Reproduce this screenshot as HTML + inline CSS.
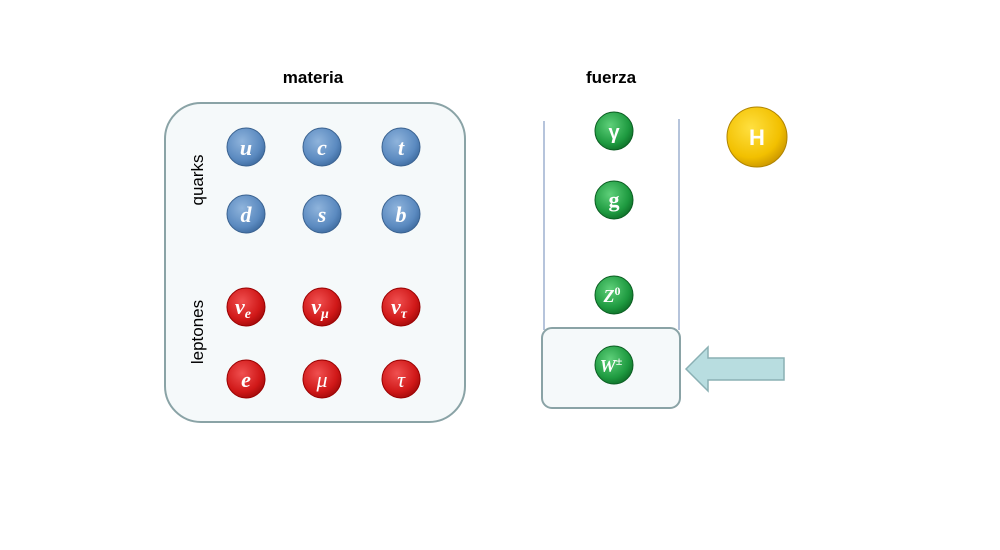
<!DOCTYPE html>
<html><head><meta charset="utf-8"><style>
body{margin:0;background:#fff;}
svg{display:block;}
text{font-family:"Liberation Sans",sans-serif;}
.m, .m text{font-family:"Liberation Serif",serif;font-style:italic;font-weight:bold;fill:#fff;text-anchor:middle;}
</style></head><body>
<svg width="1000" height="550" viewBox="0 0 1000 550">
<defs>
<radialGradient id="bl" cx="0.4" cy="0.35" r="0.7"><stop offset="0" stop-color="#8fb4dc"/><stop offset="0.7" stop-color="#5b8ac0"/><stop offset="1" stop-color="#3d6a9e"/></radialGradient>
<radialGradient id="rd" cx="0.4" cy="0.35" r="0.7"><stop offset="0" stop-color="#f05050"/><stop offset="0.7" stop-color="#d01818"/><stop offset="1" stop-color="#a00a0a"/></radialGradient>
<radialGradient id="gr" cx="0.4" cy="0.35" r="0.7"><stop offset="0" stop-color="#5fd07a"/><stop offset="0.7" stop-color="#1e9a40"/><stop offset="1" stop-color="#0e6e28"/></radialGradient>
<radialGradient id="yl" cx="0.4" cy="0.35" r="0.7"><stop offset="0" stop-color="#ffe040"/><stop offset="0.7" stop-color="#f2c000"/><stop offset="1" stop-color="#c89400"/></radialGradient>
</defs>
<text x="313" y="83" font-size="17" font-weight="bold" text-anchor="middle">materia</text>
<text x="611" y="83" font-size="17" font-weight="bold" text-anchor="middle">fuerza</text>
<rect x="165" y="103" width="300" height="319" rx="36" fill="#f5f9fa" stroke="#8aa3a6" stroke-width="2"/>
<text transform="translate(203,180) rotate(-90)" font-size="17" text-anchor="middle">quarks</text>
<text transform="translate(203,332) rotate(-90)" font-size="17" text-anchor="middle">leptones</text>
<g stroke="#3a6290" stroke-width="1">
<circle cx="246" cy="147" r="19" fill="url(#bl)"/><circle cx="322" cy="147" r="19" fill="url(#bl)"/><circle cx="401" cy="147" r="19" fill="url(#bl)"/>
<circle cx="246" cy="214" r="19" fill="url(#bl)"/><circle cx="322" cy="214" r="19" fill="url(#bl)"/><circle cx="401" cy="214" r="19" fill="url(#bl)"/>
</g>
<g stroke="#900" stroke-width="1">
<circle cx="246" cy="307" r="19" fill="url(#rd)"/><circle cx="322" cy="307" r="19" fill="url(#rd)"/><circle cx="401" cy="307" r="19" fill="url(#rd)"/>
<circle cx="246" cy="379" r="19" fill="url(#rd)"/><circle cx="322" cy="379" r="19" fill="url(#rd)"/><circle cx="401" cy="379" r="19" fill="url(#rd)"/>
</g>
<g class="m" font-size="22">
<text x="246" y="155">u</text><text x="322" y="155">c</text><text x="401" y="155">t</text>
<text x="246" y="222">d</text><text x="322" y="222">s</text><text x="401" y="222">b</text>
<text x="243" y="314">ν<tspan font-size="14" dy="4">e</tspan></text>
<text x="320" y="314">ν<tspan font-size="14" dy="4">μ</tspan></text>
<text x="399" y="314">ν<tspan font-size="14" dy="4">τ</tspan></text>
<text x="246" y="387">e</text><text x="322" y="387" style="font-weight:normal">μ</text><text x="401" y="387" style="font-weight:normal">τ</text>
</g>
<line x1="544" y1="121" x2="544" y2="330" stroke="#8fa4c8" stroke-width="1.3"/>
<line x1="679" y1="119" x2="679" y2="330" stroke="#8fa4c8" stroke-width="1.3"/>
<rect x="542" y="328" width="138" height="80" rx="10" fill="#f5f9fa" stroke="#8aa3a6" stroke-width="2"/>
<g stroke="#0b5e22" stroke-width="1">
<circle cx="614" cy="131" r="19" fill="url(#gr)"/><circle cx="614" cy="200" r="19" fill="url(#gr)"/>
<circle cx="614" cy="295" r="19" fill="url(#gr)"/><circle cx="614" cy="365" r="19" fill="url(#gr)"/>
</g>
<g fill="#fff" text-anchor="middle" font-weight="bold">
<text x="614" y="139" font-size="20">γ</text>
<text x="614" y="207" font-size="22" style="font-family:'Liberation Serif',serif">g</text>
</g>
<g class="m">
<text x="612" y="302" font-size="18">Z<tspan font-size="12" dy="-7" style="font-style:normal">0</tspan></text>
<text x="611" y="372" font-size="18">W<tspan font-size="12" dy="-7" style="font-style:normal">±</tspan></text>
</g>
<circle cx="757" cy="137" r="30" fill="url(#yl)" stroke="#b08400" stroke-width="1"/>
<text x="757" y="145" font-size="22" font-weight="bold" fill="#fff" text-anchor="middle">H</text>
<polygon points="686,369 708,347 708,358 784,358 784,380 708,380 708,391" fill="#b8dde0" stroke="#8ab0b4" stroke-width="1.5"/>
</svg>
</body></html>
